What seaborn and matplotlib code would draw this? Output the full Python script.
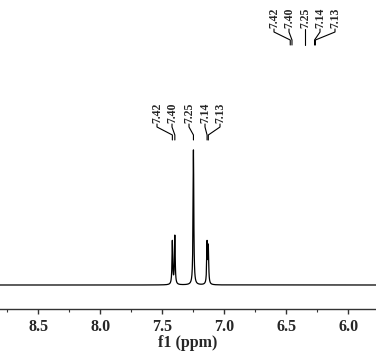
import numpy as np
import pandas as pd
import matplotlib
matplotlib.use("Agg")
import matplotlib.pyplot as plt
import seaborn as sns

# ---- data ----
peak_ppm = [7.42, 7.40, 7.25, 7.14, 7.13]
peak_height = [0.32, 0.36, 1.00, 0.30, 0.27]
peak_labels = ["7.42", "7.40", "7.25", "7.14", "7.13"]
x_ticks = [8.5, 8.0, 7.5, 7.0, 6.5, 6.0]
x_tick_labels = ["8.5", "8.0", "7.5", "7.0", "6.5", "6.0"]

sns.set_style("white")
plt.rcParams["font.family"] = ["Liberation Serif", "DejaVu Serif"]
plt.rcParams["font.weight"] = "bold"

# Lorentzian line shapes built from the peak list
ppm = np.linspace(5.6, 9.0, 8000)
w = 0.0035
inten = np.zeros_like(ppm)
for p, h in zip(peak_ppm, peak_height):
    inten += h * w**2 / ((ppm - p) ** 2 + w**2)
df = pd.DataFrame({"ppm": ppm, "intensity": inten})

W, H = 376, 363
fig = plt.figure(figsize=(W / 100, H / 100), dpi=100)
ax_bottom_px = 309
ax = fig.add_axes([0, (H - ax_bottom_px) / H, 1, ax_bottom_px / H])

sns.lineplot(data=df, x="ppm", y="intensity", color="black", lw=0.9,
             estimator=None, ax=ax)

# pixel -> data mapping (baseline at y=285px, unit height 135px)
base_px, unit_px = 285, 135
def py(ypx):
    return (base_px - ypx) / unit_px
x_left, px_per_ppm = 8.81, 124.0
def px2ppm(xpx):
    return x_left - xpx / px_per_ppm
def ppm2px(p):
    return (x_left - p) * px_per_ppm

ax.set_xlim(x_left, x_left - W / px_per_ppm)
ax.set_ylim(py(ax_bottom_px), py(0))

for s in ["left", "right", "top"]:
    ax.spines[s].set_visible(False)
ax.spines["bottom"].set_color("#333333")
ax.spines["bottom"].set_linewidth(1.0)
ax.set_yticks([])
ax.set_ylabel("")
ax.set_xticks(x_ticks)
ax.set_xticklabels(x_tick_labels, fontsize=11.5, fontweight="bold")
ax.xaxis.set_minor_locator(matplotlib.ticker.MultipleLocator(0.25))
ax.tick_params(axis="x", which="major", direction="out", length=3.5, width=1.0,
               pad=4, bottom=True, color="#333333")
ax.tick_params(axis="x", which="minor", direction="out", length=2.5, width=0.8,
               bottom=True, color="#333333")
ax.set_xlabel("f1 (ppm)", fontsize=11.5, fontweight="bold", labelpad=0)

# peak label groups
def label_group(label_xpx, text_bottom, y1, y2, y3, y4, center_px, scale):
    c = ppm2px(7.25)
    for lab, lx, p in zip(peak_labels, label_xpx, peak_ppm):
        px_peak = center_px + scale * (ppm2px(p) - c)
        xs = [px2ppm(lx), px2ppm(lx), px2ppm(px_peak), px2ppm(px_peak)]
        ys = [py(y1), py(y2), py(y3), py(y4)]
        ax.plot(xs, ys, color="black", lw=0.8, clip_on=False)
        ax.text(px2ppm(lx), py(text_bottom), lab, rotation=90, ha="center",
                va="bottom", fontsize=8.5, fontweight="bold", clip_on=False)

label_group([157, 172, 189, 205, 220], 123, 124, 127, 135, 140,
            ppm2px(7.25), 1.0)
label_group([274, 289, 305, 320, 335], 28, 29, 32, 40, 45, 305, 0.7)

fig.savefig("out.png", dpi=100)
